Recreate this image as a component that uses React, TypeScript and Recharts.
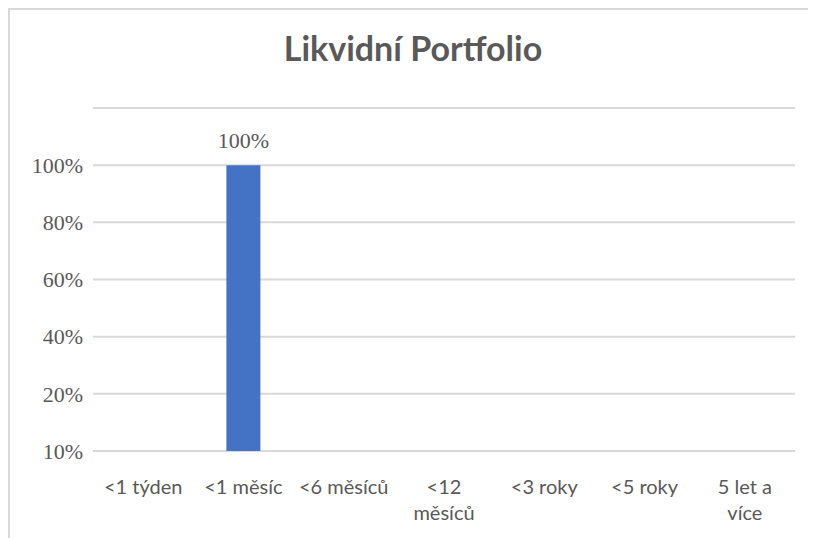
import { BarChart, Bar, XAxis, YAxis, CartesianGrid, LabelList } from 'recharts';

const categories = ['<1 týden', '<1 měsíc', '<6 měsíců', '<12\nměsíců', '<3 roky', '<5 roky', '5 let a\nvíce'];
const shares = [0, 100, 0, 0, 0, 0, 0];
const yTicks = [0, 20, 40, 60, 80, 100, 120];
const yTickLabels = ['10%', '20%', '40%', '60%', '80%', '100%', ''];

const data = categories.map((name, i) => ({ name, value: shares[i] }));

const grey = '#595959';

const CategoryTick = (props: any) => {
  const { x, y, payload } = props;
  const lines = String(payload.value).split('\n');
  return (
    <text x={x} y={y} textAnchor="middle" fill={grey} fontFamily="Lato" fontSize={20}>
      {lines.map((line, i) => (
        <tspan key={i} x={x} dy={i === 0 ? 43 : 26}>
          {line}
        </tspan>
      ))}
    </text>
  );
};

export default function App() {
  return (
    <div
      style={{
        width: 806,
        height: 528,
        borderTop: '2px solid #d9d9d9',
        borderLeft: '2px solid #d9d9d9',
        background: '#fff',
      }}
    >
      <div
        style={{
          position: 'absolute',
          left: 10,
          top: 28,
          width: 806,
          textAlign: 'center',
          fontFamily: 'Lato',
          fontWeight: 700,
          fontSize: 34,
          lineHeight: 1.2,
          color: grey,
        }}
      >
        Likvidní Portfolio
      </div>
      <BarChart
        width={806}
        height={528}
        data={data}
        margin={{ top: 98, right: 21, left: 0, bottom: 57 }}
        barCategoryGap="33%"
      >
        <CartesianGrid vertical={false} stroke="#d9d9d9" strokeWidth={2} />
        <XAxis
          dataKey="name"
          height={30}
          axisLine={false}
          tickLine={false}
          tickSize={0}
          tickMargin={0}
          interval={0}
          tick={<CategoryTick />}
        />
        <YAxis
          width={83}
          domain={[0, 120]}
          ticks={yTicks}
          axisLine={false}
          tickLine={false}
          tickSize={0}
          tickMargin={10}
          tickFormatter={(v: number) => yTickLabels[yTicks.indexOf(v)]}
          tick={{ fill: grey, fontFamily: 'Liberation Serif', fontSize: 22 }}
        />
        <Bar dataKey="value" fill="#4472c4" isAnimationActive={false}>
          <LabelList
            dataKey="value"
            position="top"
            offset={17}
            formatter={(v: any) => (v ? `${v}%` : '')}
            fill={grey}
            fontFamily="Liberation Serif"
            fontSize={22}
          />
        </Bar>
      </BarChart>
    </div>
  );
}
